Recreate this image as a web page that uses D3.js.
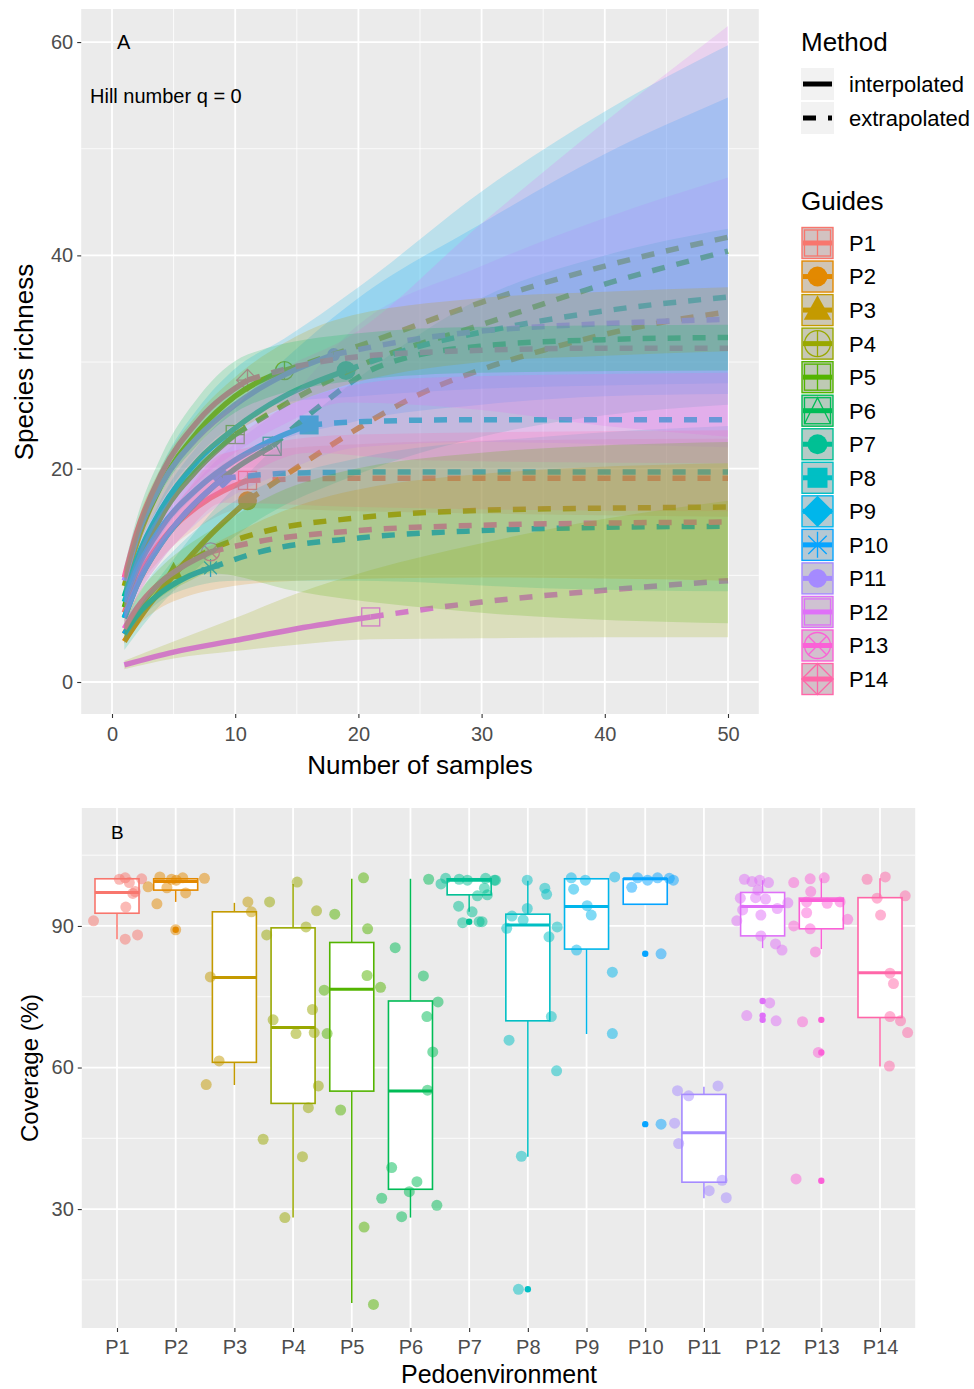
<!DOCTYPE html>
<html>
<head>
<meta charset="utf-8">
<script src="https://cdn.jsdelivr.net/npm/d3@7"></script>
<style>
  body { margin: 0; background: #fff; }
  svg { display: block; }
  text { font-family: "Liberation Sans", Arial, sans-serif; }
</style>
</head>
<body>
<svg id="fig" width="974" height="1389"></svg>
<script>
// ---------- shared ----------
const sites = ["P1","P2","P3","P4","P5","P6","P7","P8","P9","P10","P11","P12","P13","P14"];
const palette = ["#F8766D","#E38900","#C49A00","#99A800","#53B400","#00BC56","#00C094",
                 "#00BFC4","#00B6EB","#06A4FF","#A58AFF","#DF70F8","#FB61D7","#FF66A8"];
const markerShape = ["sqplus","circle","triangle","circplus","sqplus","sqtri","circle",
                     "square","diamond","asterisk","smallcircle","sqopen","circcross","diamondplus"];
// the band fill scale is keyed on the site labels sorted as text (P1, P10, P11, ...)
const fillLevels = sites.slice().sort();
const fillOf = i => palette[fillLevels.indexOf(sites[i])];

// ---------- panel A: rarefaction / extrapolation (q = 0) ----------
const xTicksA = [0, 10, 20, 30, 40, 50];
const yTicksA = [0, 20, 40, 60];
const methods = ["interpolated", "extrapolated"];

// interpolated richness [samples, species]
const interp = [
  [[1,6.5],[2,9.5],[4,13.2],[7,16.5],[11,18.9]],
  [[1,3.8],[3,7.2],[5,10],[8,13.8],[11,17]],
  [[1,4.5],[2,6.6],[3,8.2],[5,10.3]],
  [[1,9],[2,13],[4,18.5],[7,23.5],[10,26.8],[14,29.2]],
  [[1,7],[2,10.5],[4,15.5],[7,20],[10,23.2]],
  [[1,6],[2,9],[4,13],[7,17],[10,20],[13,22.1]],
  [[1,8],[2,11.5],[4,16.2],[7,20.8],[10,23.8],[14,26.8],[19,29.2]],
  [[1,7.5],[2,10.5],[4,14.5],[7,18.2],[10,20.8],[13,22.7],[16,24.1]],
  [[1,6],[2,9],[4,13],[6,15.9],[9,19.1]],
  [[1,4.5],[2,6.2],[4,8.4],[6,9.8],[8,10.7]],
  [[1,9.5],[2,13.5],[4,18.5],[7,23],[10,26],[14,28.8],[18,30.7]],
  [[1,1.6],[5,2.8],[10,3.9],[15,5],[21,6.1]],
  [[1,5],[2,6.9],[4,9.4],[6,11],[8,12.2]],
  [[1,9.8],[2,14],[4,19.5],[7,24.5],[11,28.3]]
];

// extrapolated richness [samples, species]
const extrap = [
  [[11,18.9],[20,19.1],[35,19.1],[50,19.1]],
  [[11,17],[15,20.1],[20,23.8],[25,27],[30,29.3],[35,31.1],[40,32.6],[45,33.8],[50,34.7]],
  [[5,10.3],[8,12.4],[12,14],[20,15.4],[30,16.1],[40,16.3],[50,16.4]],
  [[14,29.2],[20,31.5],[30,35.6],[40,39],[50,41.7]],
  [[10,23.2],[16,27.3],[20,29.6],[30,33.5],[40,37.3],[50,40.4]],
  [[13,22.1],[17,26],[21.5,29.5],[30,31.5],[40,32.1],[50,32.3]],
  [[19,29.2],[25,31.5],[30,32.8],[40,34.8],[50,36.1]],
  [[16,24.1],[20,24.4],[30,24.6],[50,24.6]],
  [[9,19.1],[15,19.6],[25,19.7],[50,19.7]],
  [[8,10.7],[12,12.2],[20,13.5],[30,14.2],[40,14.5],[50,14.6]],
  [[18,30.7],[25,32.2],[30,32.9],[40,33.6],[50,34.0]],
  [[21,6.1],[30,7.5],[40,8.6],[50,9.5]],
  [[8,12.2],[12,13.2],[20,14.2],[30,14.7],[40,14.9],[50,15.0]],
  [[11,28.3],[15,29.6],[20,30.5],[30,31.1],[40,31.3],[50,31.3]]
];

// 95% confidence bands [samples, lower, upper]
const bands = [
  [[1,5.6,7.4],[2,8.4,10.6],[4,11.6,14.8],[7,14.5,18.5],[11,16.3,21.5],[20,16,22.3],[35,15.7,22.7],[50,15.5,22.8]],
  [[1,3,4.6],[3,6,8.4],[5,8.5,11.5],[8,11.8,15.8],[11,14.5,19.5],[20,19.5,28.5],[30,23,36],[40,25,40],[50,26,42.5]],
  [[1,3.6,5.4],[2,5.4,7.8],[3,6.7,9.7],[5,8.3,12.3],[10,9.5,17],[20,9.5,21],[35,8.8,23],[50,8.5,24]],
  [[1,8,10],[2,11.8,14.2],[4,16.8,20.2],[7,21.3,25.7],[10,24.2,29.4],[14,26.2,32.2],[20,26.8,37],[30,27.5,46],[40,27.8,53.5],[50,28,59.7]],
  [[1,6,8],[2,9.2,11.8],[4,13.8,17.2],[7,17.8,22.2],[10,20.6,25.8],[20,24.5,36],[30,26,43],[40,26.8,49.5],[50,27,54.8]],
  [[1,5.1,6.9],[2,7.8,10.2],[4,11.4,14.6],[7,15,19],[10,17.6,22.4],[13,19.2,25],[20,22,33.5],[30,22.5,39],[40,22.3,43.5],[50,22,47.3]],
  [[1,7,9],[2,10.2,12.8],[4,14.6,17.8],[7,18.8,22.8],[10,21.5,26.1],[14,24.2,29.4],[19,26.2,32.2],[30,25.5,43],[40,24,52.5],[50,23,61.5]],
  [[1,6.6,8.4],[2,9.3,11.7],[4,13,16],[7,16.4,20],[10,18.7,22.9],[16,21.5,26.7],[25,20.8,28.5],[50,20.5,29]],
  [[1,5.1,6.9],[2,7.8,10.2],[4,11.4,14.6],[6,14,17.8],[9,16.8,21.4],[20,16.4,23.2],[50,16,23.6]],
  [[1,3.6,5.4],[2,5.1,7.3],[4,7,9.8],[6,8,11.6],[8,8.6,12.8],[15,9.5,16.5],[30,9.8,19.5],[50,9.5,20.5]],
  [[1,8.5,10.5],[2,12.2,14.8],[4,16.8,20.2],[7,20.8,25.2],[10,23.4,28.6],[14,25.8,31.8],[18,27.5,33.9],[30,30,36],[40,30.6,36.6],[50,31,37]],
  [[1,1.2,2],[5,2.2,3.8],[10,2.9,6],[15,3.5,8.3],[21,4,10.5],[30,4.1,13],[40,4.2,15.3],[50,4.2,17]],
  [[1,4.2,5.8],[2,5.8,8],[4,8,10.8],[6,9.3,12.7],[8,10.2,14.2],[15,8.5,18.5],[30,6.5,21.5],[50,5.5,22.5]],
  [[1,8.8,10.8],[2,12.7,15.3],[4,17.8,21.2],[7,22.3,26.7],[11,25.9,30.7],[20,28.3,32.7],[30,29,33.3],[50,29.2,33.5]]
];

// ---------- panel B: sample coverage ----------
const yTicksB = [30, 60, 90];
const boxLow  = [87.2, 95.1, 56.3, 28.2, 10.1, 28.2, 93.0, 41.1, 67.1, 94.6, 32.3, 85.3, 85.1, 60.2];
const boxQ1   = [92.7, 97.6, 61.1, 52.4, 55.0, 34.2, 96.6, 69.9, 85.1, 94.6, 35.7, 87.9, 89.4, 70.6];
const boxMed  = [97.1, 99.4, 79.1, 68.5, 76.6, 55.0, 99.7, 90.2, 94.1, 100.0, 46.2, 94.1, 95.4, 80.1];
const boxQ3   = [100.0, 100.0, 93.0, 89.6, 86.5, 74.1, 100.0, 92.5, 100.0, 100.0, 54.3, 97.1, 95.9, 96.0];
const boxHigh = [100.0, 100.0, 94.9, 98.9, 100.0, 100.0, 100.0, 99.6, 100.0, 100.0, 55.9, 99.7, 100.1, 100.1];
const outliers = [[], [89.2], [], [], [], [], [90.9], [13.0], [], [84.1, 48.0], [], [74.1, 71.0, 70.1], [70.1, 63.2, 36.0], []];

// observed coverage per sample [value, jitter as fraction of category step]
const coverage = [
  [[91.1,-0.40],[99.9,0.04],[100.2,0.14],[99.2,0.21],[100,0.42],[96.9,0.27],[94,0.15],[87.2,0.14],[88.1,0.35],[97.3,0.31]],
  [[98.3,-0.47],[94.7,-0.32],[100.4,-0.27],[98.1,-0.15],[99.7,0.01],[97,0.17],[100.1,0.49],[89.2,0.0],[99.9,-0.07],[100.2,0.12]],
  [[95.1,0.23],[93,0.29],[79.2,-0.41],[61.4,-0.26],[56.4,-0.48]],
  [[99.3,0.07],[95.1,-0.40],[88.1,-0.45],[89.8,0.22],[93.2,0.40],[70.1,-0.34],[72.3,0.33],[67.2,0.05],[67.4,0.36],[56.1,0.43],[51.5,0.26],[44.8,-0.51],[41.1,0.16],[28.2,-0.14]],
  [[100.2,0.20],[92.5,-0.29],[89.4,0.27],[79.5,0.26],[77,0.49],[76.4,-0.47],[67.2,-0.42],[51,-0.19],[26.2,0.21],[9.8,0.37]],
  [[99.9,0.31],[85.4,-0.26],[79.4,0.22],[73.9,0.47],[70.8,0.28],[63.3,0.38],[55.2,0.29],[38.8,-0.32],[35.8,0.11],[33.7,-0.02],[32.3,-0.49],[30.8,0.45],[28.4,-0.15]],
  [[98.9,-0.48],[100.1,-0.40],[99.9,-0.17],[99.7,-0.03],[100.1,0.28],[99.7,0.43],[98,0.26],[96.4,0.14],[96.6,0.31],[94.2,-0.18],[93,0.05],[90.7,-0.11],[90.9,0.17],[90.9,0.22],[99.7,0.45]],
  [[99.7,-0.01],[98,0.29],[96.7,0.32],[93.7,-0.01],[92.1,-0.27],[91.3,-0.08],[89.5,-0.36],[89.8,0.50],[87.7,0.36],[70.8,0.40],[65.8,-0.32],[59.3,0.49],[41.2,-0.11],[13,-0.16]],
  [[100.2,-0.26],[99.7,-0.02],[100.4,0.48],[97.8,-0.22],[94.3,0.01],[92.3,0.08],[84.9,-0.17],[80.2,0.44],[67.2,0.44]],
  [[100.2,-0.13],[99.7,0.04],[100.2,0.21],[100.1,0.41],[99.7,0.48],[98.2,-0.23],[84.1,0.27],[48,0.27]],
  [[55.1,-0.45],[54,-0.26],[56.1,0.24],[48.2,-0.50],[43.9,-0.43],[36.1,0.31],[33.9,0.09],[32.4,0.38]],
  [[99.9,-0.31],[99.4,-0.18],[99.7,-0.05],[99.2,0.10],[97.6,-0.08],[95.9,-0.38],[96,-0.12],[95.7,0.05],[93.7,0.25],[94.9,0.43],[93.4,-0.34],[92.3,-0.03],[91.1,-0.44],[87.9,-0.03],[86.2,0.22],[84.9,0.33],[73.7,0.12],[71,-0.27],[69.9,0.23]],
  [[99.2,-0.47],[100,-0.19],[100.2,0.05],[97.3,-0.18],[95.1,-0.25],[94.8,0.10],[95.1,0.32],[91.4,0.45],[92.8,-0.25],[90,-0.47],[89.4,-0.19],[84.5,-0.10],[69.7,-0.32],[63.2,-0.05],[36.4,-0.43]],
  [[99.9,-0.22],[100.4,0.09],[96.4,0.43],[95.9,-0.05],[92.3,0.01],[80,0.17],[77.8,0.23],[70.8,0.17],[69.9,0.35],[67.4,0.47],[60.3,0.16]]
];

// ---------- drawing ----------
const svg = d3.select("#fig");
const TICK_COL = "#4D4D4D";

function drawMarker(g, shape, cx, cy, s, col) {
  const m = g.append("g").attr("transform", `translate(${cx},${cy})`);
  const open = e => e.attr("fill", "none").attr("stroke", col).attr("stroke-width", 1.3);
  const solid = e => e.attr("fill", col).attr("stroke", "none");
  const k = s * 0.7071;
  switch (shape) {
    case "circle": solid(m.append("circle").attr("r", s)); break;
    case "smallcircle": solid(m.append("circle").attr("r", s * 0.72)); break;
    case "triangle": solid(m.append("path").attr("d", `M0,${-s*1.15}L${s*1.05},${s*0.75}L${-s*1.05},${s*0.75}Z`)); break;
    case "square": solid(m.append("rect").attr("x", -s).attr("y", -s).attr("width", 2*s).attr("height", 2*s)); break;
    case "diamond": solid(m.append("path").attr("d", `M0,${-s*1.2}L${s*1.2},0L0,${s*1.2}L${-s*1.2},0Z`)); break;
    case "sqopen": open(m.append("rect").attr("x", -s).attr("y", -s).attr("width", 2*s).attr("height", 2*s)); break;
    case "sqplus":
      open(m.append("rect").attr("x", -s).attr("y", -s).attr("width", 2*s).attr("height", 2*s));
      open(m.append("path").attr("d", `M${-s},0H${s}M0,${-s}V${s}`)); break;
    case "sqtri":
      open(m.append("rect").attr("x", -s).attr("y", -s).attr("width", 2*s).attr("height", 2*s));
      open(m.append("path").attr("d", `M${-s},${s}L0,${-s}L${s},${s}`)); break;
    case "circplus":
      open(m.append("circle").attr("r", s));
      open(m.append("path").attr("d", `M${-s},0H${s}M0,${-s}V${s}`)); break;
    case "circcross":
      open(m.append("circle").attr("r", s));
      open(m.append("path").attr("d", `M${-k},${-k}L${k},${k}M${-k},${k}L${k},${-k}`)); break;
    case "asterisk":
      open(m.append("path").attr("d", `M${-s},0H${s}M0,${-s}V${s}M${-k},${-k}L${k},${k}M${-k},${k}L${k},${-k}`)); break;
    case "diamondplus":
      open(m.append("path").attr("d", `M0,${-s*1.2}L${s*1.2},0L0,${s*1.2}L${-s*1.2},0Z`));
      open(m.append("path").attr("d", `M${-s*1.2},0H${s*1.2}M0,${-s*1.2}V${s*1.2}`)); break;
  }
}

// ===== Panel A =====
const xA = d3.scaleLinear().domain([-2.5, 52.5]).range([81.2, 758.8]);
const yA = d3.scaleLinear().domain([-3, 63.1]).range([714, 9]);
const gA = svg.append("g");

gA.append("rect").attr("x", xA(-2.5)).attr("y", yA(63.1))
  .attr("width", xA(52.5) - xA(-2.5)).attr("height", yA(-3) - yA(63.1)).attr("fill", "#EBEBEB");

// grid
[5, 15, 25, 35, 45].forEach(v => gA.append("line").attr("x1", xA(v)).attr("x2", xA(v))
  .attr("y1", yA(63.1)).attr("y2", yA(-3)).attr("stroke", "#fff").attr("stroke-width", 0.8));
[10, 30, 50].forEach(v => gA.append("line").attr("y1", yA(v)).attr("y2", yA(v))
  .attr("x1", xA(-2.5)).attr("x2", xA(52.5)).attr("stroke", "#fff").attr("stroke-width", 0.8));
xTicksA.forEach(v => gA.append("line").attr("x1", xA(v)).attr("x2", xA(v))
  .attr("y1", yA(63.1)).attr("y2", yA(-3)).attr("stroke", "#fff").attr("stroke-width", 1.8));
yTicksA.forEach(v => gA.append("line").attr("y1", yA(v)).attr("y2", yA(v))
  .attr("x1", xA(-2.5)).attr("x2", xA(52.5)).attr("stroke", "#fff").attr("stroke-width", 1.8));

svg.append("clipPath").attr("id", "clipA").append("rect")
  .attr("x", xA(-2.5)).attr("y", yA(63.1)).attr("width", xA(52.5) - xA(-2.5)).attr("height", yA(-3) - yA(63.1));
const plotA = gA.append("g").attr("clip-path", "url(#clipA)");

const lineA = d3.line().x(d => xA(d[0])).y(d => yA(d[1])).curve(d3.curveMonotoneX);
const areaA = d3.area().x(d => xA(d[0])).y0(d => yA(d[1])).y1(d => yA(d[2])).curve(d3.curveMonotoneX);

// reference-sample markers
sites.forEach((s, i) => {
  const ref = interp[i][interp[i].length - 1];
  const shp = markerShape[i];
  const size = (shp === "circle" || shp === "square") ? 9.5 : 9;
  drawMarker(plotA, shp, xA(ref[0]), yA(ref[1]), size, palette[i]);
});
// curves
sites.forEach((s, i) => {
  plotA.append("path").attr("d", lineA(interp[i])).attr("fill", "none")
    .attr("stroke", palette[i]).attr("stroke-width", 5.5);
  plotA.append("path").attr("d", lineA(extrap[i])).attr("fill", "none")
    .attr("stroke", palette[i]).attr("stroke-width", 5.5).attr("stroke-dasharray", "13,12");
});
// confidence bands
sites.forEach((s, i) => {
  plotA.append("path").attr("d", areaA(bands[i])).attr("fill", fillOf(i)).attr("fill-opacity", 0.2);
});

// axes A
const axA = gA.append("g").attr("transform", `translate(${xA(-2.5)},0)`)
  .call(d3.axisLeft(yA).tickValues(yTicksA).tickSize(4).tickPadding(4));
const axAx = gA.append("g").attr("transform", `translate(0,${yA(-3)})`)
  .call(d3.axisBottom(xA).tickValues(xTicksA).tickSize(4).tickPadding(9));
[axA, axAx].forEach(a => {
  a.select(".domain").remove();
  a.selectAll(".tick line").attr("stroke", "#333").attr("stroke-width", 1.1);
  a.selectAll(".tick text").attr("fill", TICK_COL).style("font-size", "20px")
    .style("font-family", '"Liberation Sans", Arial, sans-serif');
});

gA.append("text").attr("x", 117).attr("y", 42).attr("dy", "0.36em").style("font-size", "20px").text("A");
gA.append("text").attr("x", 90).attr("y", 96).attr("dy", "0.36em").style("font-size", "20px").text("Hill number q = 0");
gA.append("text").attr("transform", "translate(33,362) rotate(-90)").attr("text-anchor", "middle")
  .style("font-size", "26px").text("Species richness");
gA.append("text").attr("x", 420).attr("y", 774).attr("text-anchor", "middle")
  .style("font-size", "26px").text("Number of samples");

// legend A
const lg = svg.append("g");
lg.append("text").attr("x", 801).attr("y", 42).attr("dy", "0.36em").style("font-size", "26px").text("Method");
methods.forEach((m, j) => {
  const cy = 84 + j * 34;
  lg.append("rect").attr("x", 801).attr("y", cy - 16).attr("width", 33).attr("height", 32).attr("fill", "#F2F2F2");
  const l = lg.append("line").attr("x1", 803).attr("x2", 832).attr("y1", cy).attr("y2", cy)
    .attr("stroke", "#000").attr("stroke-width", 5);
  if (j === 1) l.attr("stroke-dasharray", "13,12");
  lg.append("text").attr("x", 849).attr("y", cy).attr("dy", "0.36em").style("font-size", "22px").text(m);
});
lg.append("text").attr("x", 801).attr("y", 201).attr("dy", "0.36em").style("font-size", "26px").text("Guides");
sites.forEach((s, i) => {
  const cy = 243 + i * 33.54;
  lg.append("rect").attr("x", 802).attr("y", cy - 15.5).attr("width", 31).attr("height", 31)
    .attr("fill", "#cdcdcd");
  lg.append("rect").attr("x", 802).attr("y", cy - 15.5).attr("width", 31).attr("height", 31)
    .attr("fill", palette[i]).attr("fill-opacity", 0.12).attr("stroke", palette[i]).attr("stroke-width", 1.4);
  const shp = markerShape[i];
  drawMarker(lg.append("g"), shp, 817.5, cy, (shp === "circle" || shp === "square") ? 10 : 13, palette[i]);
  lg.append("line").attr("x1", 803).attr("x2", 832).attr("y1", cy).attr("y2", cy)
    .attr("stroke", palette[i]).attr("stroke-width", 5);
  lg.append("text").attr("x", 849).attr("y", cy).attr("dy", "0.36em").style("font-size", "22px").text(s);
});

// ===== Panel B =====
const xB = d3.scalePoint().domain(sites).range([117, 880]);
const stepB = xB.step();
const yB = d3.scaleLinear().domain([4.8, 115]).range([1328, 808]);
const gB = svg.append("g");
const leftB = 117 - 0.6 * stepB, rightB = 880 + 0.6 * stepB;

gB.append("rect").attr("x", leftB).attr("y", yB(115)).attr("width", rightB - leftB)
  .attr("height", yB(4.8) - yB(115)).attr("fill", "#EBEBEB");
[15, 45, 75, 105].forEach(v => gB.append("line").attr("x1", leftB).attr("x2", rightB)
  .attr("y1", yB(v)).attr("y2", yB(v)).attr("stroke", "#fff").attr("stroke-width", 0.8));
yTicksB.forEach(v => gB.append("line").attr("x1", leftB).attr("x2", rightB)
  .attr("y1", yB(v)).attr("y2", yB(v)).attr("stroke", "#fff").attr("stroke-width", 1.8));
sites.forEach(s => gB.append("line").attr("x1", xB(s)).attr("x2", xB(s))
  .attr("y1", yB(115)).attr("y2", yB(4.8)).attr("stroke", "#fff").attr("stroke-width", 1.8));

const halfW = 0.375 * stepB;
sites.forEach((s, i) => {
  const cx = xB(s), col = palette[i];
  const g = gB.append("g");
  g.append("line").attr("x1", cx).attr("x2", cx).attr("y1", yB(boxQ3[i])).attr("y2", yB(boxHigh[i]))
    .attr("stroke", col).attr("stroke-width", 1.5);
  g.append("line").attr("x1", cx).attr("x2", cx).attr("y1", yB(boxQ1[i])).attr("y2", yB(boxLow[i]))
    .attr("stroke", col).attr("stroke-width", 1.5);
  g.append("rect").attr("x", cx - halfW).attr("y", yB(boxQ3[i])).attr("width", 2 * halfW)
    .attr("height", yB(boxQ1[i]) - yB(boxQ3[i])).attr("fill", "#fff").attr("stroke", col).attr("stroke-width", 1.6);
  g.append("line").attr("x1", cx - halfW).attr("x2", cx + halfW).attr("y1", yB(boxMed[i])).attr("y2", yB(boxMed[i]))
    .attr("stroke", col).attr("stroke-width", 3);
  outliers[i].forEach(v => g.append("circle").attr("cx", cx).attr("cy", yB(v)).attr("r", 3.2).attr("fill", col));
});
sites.forEach((s, i) => {
  gB.append("g").selectAll("circle").data(coverage[i]).join("circle")
    .attr("cx", d => xB(s) + d[1] * stepB).attr("cy", d => yB(d[0])).attr("r", 5.5)
    .attr("fill", palette[i]).attr("fill-opacity", 0.5);
});

const axB = gB.append("g").attr("transform", `translate(${leftB},0)`)
  .call(d3.axisLeft(yB).tickValues(yTicksB).tickSize(4).tickPadding(4));
const axBx = gB.append("g").attr("transform", `translate(0,${yB(4.8)})`)
  .call(d3.axisBottom(xB).tickSize(4).tickPadding(8));
[axB, axBx].forEach(a => {
  a.select(".domain").remove();
  a.selectAll(".tick line").attr("stroke", "#333").attr("stroke-width", 1.1);
  a.selectAll(".tick text").attr("fill", TICK_COL).style("font-size", "20px")
    .style("font-family", '"Liberation Sans", Arial, sans-serif');
});

gB.append("text").attr("x", 111).attr("y", 832).attr("dy", "0.36em").style("font-size", "19px").text("B");
gB.append("text").attr("transform", "translate(38,1068) rotate(-90)").attr("text-anchor", "middle")
  .style("font-size", "24px").text("Coverage (%)");
gB.append("text").attr("x", 499).attr("y", 1383).attr("text-anchor", "middle")
  .style("font-size", "25px").text("Pedoenvironment");
</script>
</body>
</html>
